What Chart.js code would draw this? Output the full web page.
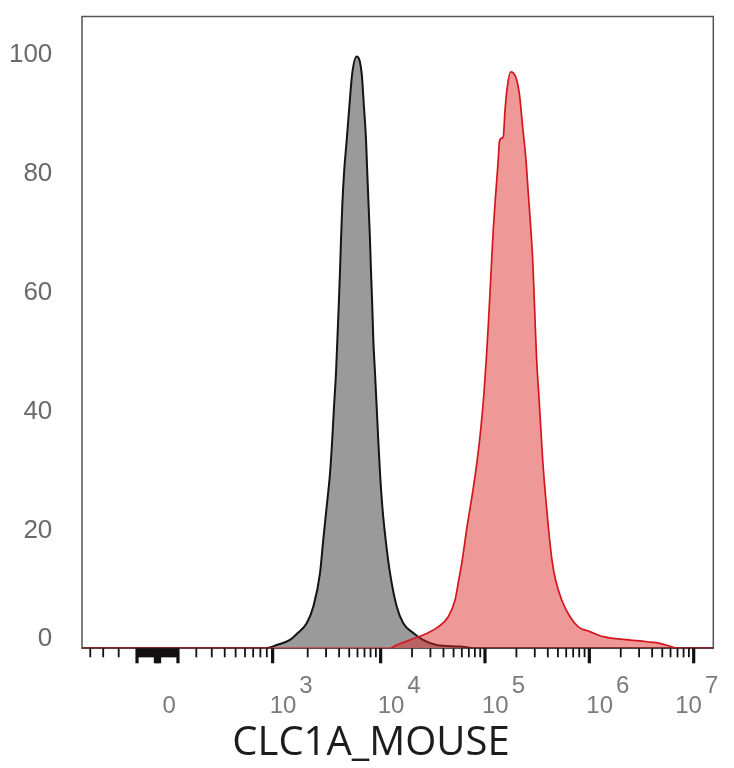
<!DOCTYPE html>
<html>
<head>
<meta charset="utf-8">
<script src="https://cdn.jsdelivr.net/npm/chart.js@4.4.1/dist/chart.umd.min.js"></script>
<style>
  html, body { margin: 0; padding: 0; background: #fff; }
  #wrap { width: 734px; height: 768px; }
</style>
</head>
<body>
<div id="wrap"><canvas id="histChart" width="734" height="768"></canvas></div>
<script>
// x = position on the axis in decades (10^5 -> 5), y = % of max
const grayX = [1.14, 2.60, 2.892, 3.004, 3.131, 3.208, 3.291, 3.355, 3.419, 3.450, 3.483, 3.515, 3.536, 3.553, 3.572, 3.585, 3.598, 3.610, 3.620, 3.632, 3.649, 3.675, 3.700, 3.728, 3.770, 3.818, 3.840, 3.860, 3.872, 3.885, 3.898, 3.908, 3.920, 3.930, 3.946, 3.962, 3.977, 3.994, 4.016, 4.048, 4.090, 4.154, 4.217, 4.310, 4.406, 4.537, 4.760, 4.904, 7.19];
const grayY = [0, 0, 0, 0.55, 1.4, 2.6, 4.2, 7.0, 12.6, 18.2, 23.8, 29.4, 35.0, 40.5, 46.2, 51.7, 57.3, 63.0, 68.5, 74.1, 79.7, 85.3, 90.9, 96.5, 99.3, 96.5, 90.9, 85.3, 79.7, 74.1, 68.5, 63.0, 57.3, 51.7, 46.2, 40.5, 35.0, 29.4, 23.8, 18.2, 12.6, 7.0, 4.2, 2.6, 1.4, 0.55, 0.3, 0, 0];

const redX = [1.14, 4.00, 4.090, 4.154, 4.281, 4.441, 4.552, 4.648, 4.713, 4.749, 4.782, 4.828, 4.880, 4.926, 4.962, 4.990, 5.012, 5.031, 5.048, 5.064, 5.081, 5.103, 5.127, 5.138, 5.160, 5.175, 5.192, 5.214, 5.246, 5.278, 5.304, 5.329, 5.361, 5.393, 5.415, 5.438, 5.457, 5.470, 5.482, 5.495, 5.515, 5.534, 5.553, 5.578, 5.607, 5.642, 5.676, 5.735, 5.815, 5.894, 6.006, 6.134, 6.325, 6.550, 6.677, 6.789, 6.837, 7.19];
const redY = [0, 0, 0, 0.55, 1.4, 2.5, 3.6, 5.3, 8.1, 11.5, 14.8, 20.4, 26.0, 31.6, 37.2, 42.8, 48.4, 54.0, 59.6, 65.2, 70.7, 76.3, 81.9, 85.0, 85.6, 85.8, 90.3, 94.2, 96.7, 96.4, 95.4, 93.1, 87.5, 81.9, 76.3, 70.7, 65.2, 59.6, 54.0, 48.4, 42.8, 37.2, 31.6, 26.0, 20.4, 14.8, 11.5, 8.1, 5.3, 3.6, 2.8, 1.95, 1.5, 1.1, 0.84, 0.27, 0, 0];

const yTickValues = [0, 20, 40, 60, 80, 100];
const xLabelValues = [0, 1e3, 1e4, 1e5, 1e6, 1e7];
const xLabelBase = ["0", "10", "10", "10", "10", "10"];
const xLabelExp = ["", "3", "4", "5", "6", "7"];
const axisTitle = "CLC1A_MOUSE";

// biex style axis: about linear round zero, log from 10^3 up
function axisPos(v) {
  if (v <= 1000) return 1.8615 + 0.551 * Math.asinh(v / 275);
  return Math.log10(v);
}

const longTicks = [-100, -10, 0, 10, 100, 1e3, 1e4, 1e5, 1e6, 1e7];
const shortTicks = [-400, -300, -200];
for (let v = 200; v <= 900; v += 100) shortTicks.push(v);
for (let d = 3; d <= 6; d++) {
  for (let k = 2; k <= 9; k++) shortTicks.push(k * Math.pow(10, d));
}
// the packed ticks near zero
const zeroTicks = [];
for (let v = -90; v <= 90; v += 10) if (Math.abs(v) > 10) zeroTicks.push(v);

const flowAxes = {
  id: "flowAxes",
  beforeDatasetsDraw(chart) {
    const { ctx, chartArea: a } = chart;
    ctx.save();
    ctx.strokeStyle = "#555";
    ctx.lineWidth = 1.5;
    ctx.strokeRect(a.left, a.top, a.right - a.left, a.bottom - a.top);
    ctx.restore();
  },
  afterDraw(chart) {
    const { ctx, chartArea: a } = chart;
    const x = chart.scales.x;
    const y = chart.scales.y;
    ctx.save();

    const tick = (v, len, w) => {
      const px = x.getPixelForValue(axisPos(v));
      ctx.lineWidth = w;
      ctx.beginPath();
      ctx.moveTo(px, a.bottom);
      ctx.lineTo(px, a.bottom + len);
      ctx.stroke();
    };
    ctx.strokeStyle = "#111";
    shortTicks.forEach((v) => tick(v, 9, 1.8));
    zeroTicks.forEach((v) => tick(v, 9, 2.6));
    longTicks.forEach((v) => tick(v, 15, 3.2));

    // x labels, 10 with the power raised
    ctx.font = '24px "Liberation Sans"';
    ctx.fillStyle = "#7b7b7b";
    ctx.textAlign = "left";
    ctx.textBaseline = "alphabetic";
    xLabelValues.forEach((v, i) => {
      const px = x.getPixelForValue(axisPos(v));
      const base = xLabelBase[i];
      const exp = xLabelExp[i];
      const bw = ctx.measureText(base).width;
      const total = bw + (exp ? 3 + ctx.measureText(exp).width : 0);
      let left = exp ? px - 3 : px + 5;
      if (left + total > a.right + 5) left = a.right + 5 - total;
      ctx.fillText(base, left, a.bottom + 64.7);
      if (exp) ctx.fillText(exp, left + bw + 3, a.bottom + 44.7);
    });

    // y labels
    ctx.font = '26px "Liberation Sans"';
    ctx.fillStyle = "#6a6a6a";
    ctx.textAlign = "right";
    yTickValues.forEach((v) => {
      let py = y.getPixelForValue(v);
      if (v === 0) py -= 11.6;
      ctx.fillText(String(v), a.left - 29.7, py + 9.3);
    });

    ctx.font = '40px "Open Sans"';
    ctx.fillStyle = "#1c1c1c";
    ctx.textAlign = "center";
    ctx.fillText(axisTitle, 371, a.bottom + 106.7);
    ctx.restore();
  },
};

new Chart(document.getElementById("histChart"), {
  type: "line",
  data: {
    datasets: [
      {
        label: "CLC1A_MOUSE",
        data: redX.map((v, i) => ({ x: v, y: redY[i] })),
        borderColor: "#d3161e",
        borderWidth: 1.7,
        backgroundColor: "rgba(222,40,40,0.48)",
        fill: "origin",
        pointRadius: 0,
        cubicInterpolationMode: "monotone",
      },
      {
        label: "Control",
        data: grayX.map((v, i) => ({ x: v, y: grayY[i] })),
        borderColor: "#141414",
        borderWidth: 2,
        backgroundColor: "#9a9a9a",
        fill: "origin",
        pointRadius: 0,
        cubicInterpolationMode: "monotone",
      },
    ],
  },
  options: {
    responsive: false,
    animation: false,
    layout: { padding: { left: 82, right: 20.7, top: 16.5, bottom: 119.7 } },
    plugins: {
      legend: { display: false },
      tooltip: { enabled: false },
    },
    scales: {
      x: { type: "linear", display: false, min: 1.138, max: 7.188 },
      y: { display: false, min: 0, max: 106 },
    },
  },
  plugins: [flowAxes],
});
</script>
</body>
</html>
